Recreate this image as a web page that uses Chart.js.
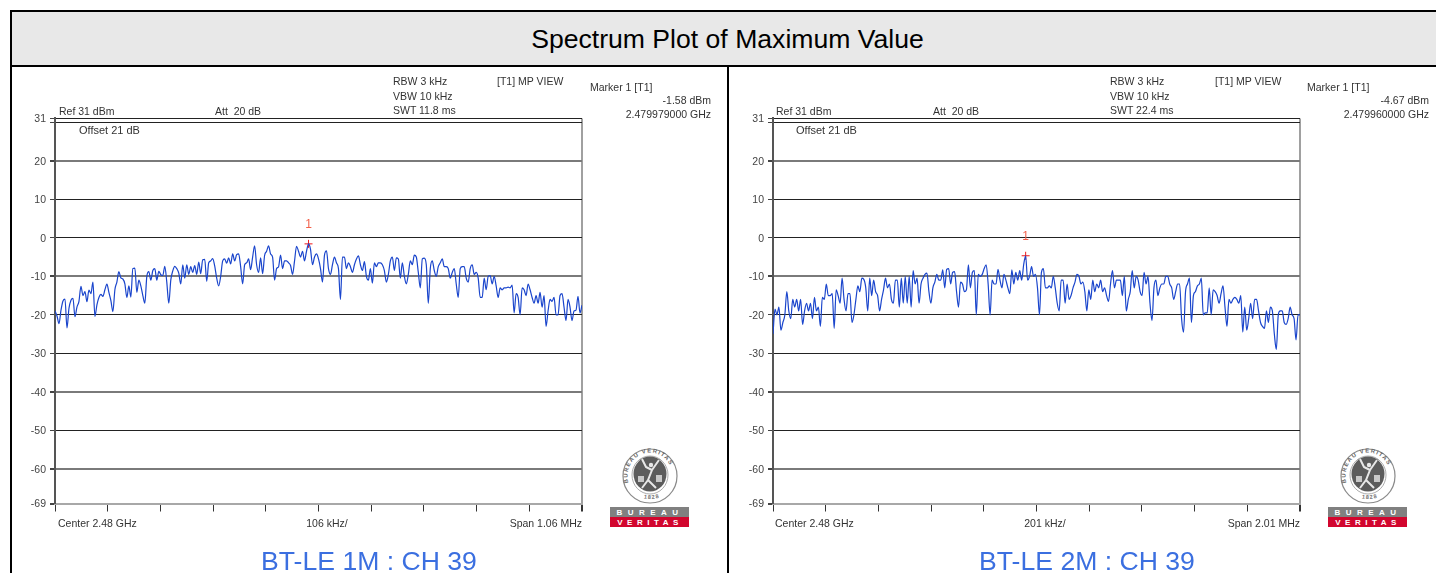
<!DOCTYPE html>
<html>
<head>
<meta charset="utf-8">
<title>Spectrum Plot of Maximum Value</title>
<script src="https://cdn.jsdelivr.net/npm/chart.js@4"></script>
<style>
    html, body { margin: 0; padding: 0; background: #fff; }
    body { position: relative; width: 1436px; height: 573px; overflow: hidden; font-family: "Liberation Sans", Arial, sans-serif; }
    .rule { position: absolute; background: #000; }
    #header { position: absolute; left: 11px; top: 12px; width: 1433px; height: 53px; text-align: center; background: #e8e8e8; line-height: 55px; font-size: 26.6px; color: #000; }
    canvas { position: absolute; top: 67px; }
    .note { position: absolute; font-size: 10.5px; line-height: 12px; color: #333; white-space: pre; }
    .caption { position: absolute; top: 545px; width: 400px; text-align: center; font-size: 26.6px; line-height: 32px; color: #3b6fe0; }
    svg { position: absolute; top: 447px; }
</style>
</head>
<body>
<div id="header">Spectrum Plot of Maximum Value</div>
<div class="rule" style="left:10px;top:10px;width:1426px;height:2px"></div>
<div class="rule" style="left:10px;top:65px;width:1426px;height:2px"></div>
<div class="rule" style="left:10px;top:10px;width:2px;height:563px"></div>
<div class="rule" style="left:727px;top:66px;width:2px;height:507px"></div>
<canvas id="chart1" width="575" height="460" style="left:12px"></canvas>
<canvas id="chart2" width="575" height="460" style="left:730px"></canvas>

<script>
const yTicks = [31, 30, 20, 10, 0, -10, -20, -30, -40, -50, -60, -69]
const heavyLines = [20, -10, -40, -60]

const span1 = 1060
const span2 = 2010
const marker1 = -1.58
const marker2 = -4.67

const trace1 = [
    -19, -20.3, -22.3, -18.8, -16.4, -15.9, -23.4, -18.3, -16.2, -15.7, -20.5, -18, -16.5, -12.6, -15, -14,
    -16.6, -13.6, -14.5, -11.5, -20.4, -17.4, -15.5, -14.7, -15.2, -13.5, -12, -14.2, -16.3, -19.2, -13.5, -11.5,
    -8.8, -10.4, -10.7, -12, -15.5, -12.5, -15.4, -8, -7.9, -14.2, -11, -12.5, -15, -17, -10, -8.8,
    -11, -8.5, -8, -11, -8.7, -9.6, -9.8, -7.4, -11.5, -17, -11, -8.6, -7.4, -8, -9.2, -12,
    -7, -10.5, -7, -9.5, -7.5, -9, -7.2, -9.5, -6.3, -9.3, -5.7, -5.6, -11.3, -6.5, -6, -5.4,
    -7.3, -10.5, -12.5, -10, -6, -5.5, -6.6, -5.2, -6.8, -4.2, -6, -4.4, -4.2, -7.5, -12, -7,
    -6.5, -5.5, -8.3, -5, -2.1, -7, -9, -5.2, -9.3, -4.6, -3.5, -2.1, -4.2, -5, -11, -8,
    -7.5, -4.5, -8, -6, -6, -6.5, -7.2, -9.5, -6, -2.2, -3.5, -5, -3.5, -6, -3.5, -1.58,
    -3, -7, -5, -4.2, -5.5, -8, -11.5, -4.5, -3.4, -8, -9.5, -7, -5, -6.5, -8, -16,
    -5, -5, -8, -6.5, -7.5, -9, -7, -5.5, -4.7, -7, -8.5, -6.2, -10, -11, -8, -11.8,
    -6.5, -7.5, -6.5, -6.5, -7, -8.5, -11.5, -9.5, -6, -5, -8.5, -5.2, -5.5, -10.5, -6.5, -10,
    -12, -9.5, -6, -7, -4.5, -5, -9, -13, -5.5, -5.3, -7, -17, -8, -6, -8.5, -10,
    -7.5, -6.5, -5.5, -7.5, -7.5, -8, -10.5, -9, -8, -12, -15.5, -8, -7.5, -7.5, -10.5, -11.5,
    -8, -7, -9.5, -9, -10.5, -15.5, -15.5, -10.5, -13.5, -10, -9.8, -12, -10, -12.5, -15.5, -13,
    -13.5, -13, -13, -12.8, -13, -12.3, -19.5, -14.5, -15.5, -20, -13, -13.5, -15, -12, -13.5, -15.5,
    -17, -15, -17, -14.2, -18, -15, -23, -19, -16, -16.5, -15.5, -20, -20, -15, -14.5, -18,
    -21.5, -16, -18, -21.5, -19, -18.8, -15.2, -19.5, -17.5
]

const trace2 = [
    -25, -18.5, -20, -18, -24, -22, -20, -14, -19, -21, -16, -18, -16, -19, -16, -22.5,
    -19, -17, -19, -17, -21, -15.5, -19, -18, -23, -15.5, -16, -12, -15, -15, -14.5, -23.5,
    -13.5, -15, -17, -10.5, -16, -19, -14.5, -14.5, -22, -20, -16, -12.5, -14, -10.5, -10.8, -13,
    -19, -10.5, -15, -11, -14, -15, -19, -16, -13.5, -10.5, -13, -12, -16, -17, -11, -11,
    -18, -10.5, -17, -10, -17, -10, -18, -8.5, -12, -10.5, -17, -12, -10.5, -9.5, -9.2, -14,
    -17, -13, -11.5, -9.5, -11, -11, -8.3, -13, -8.2, -8, -12, -9, -8.8, -14, -18, -11.5,
    -12, -14, -13.5, -7, -13, -9, -8.5, -20, -9.5, -10, -9.5, -8, -7, -12, -20, -11,
    -12, -12, -8.2, -11, -13, -9.5, -11, -13, -14.5, -8.3, -12, -9, -11, -8.5, -11, -7,
    -4.67, -11, -10, -7.5, -10, -9.5, -13, -20, -9, -8, -13, -13, -12.5, -13, -10, -13,
    -17, -19, -11, -11, -17, -12, -16, -15, -13, -11.5, -9.5, -10, -12, -11.5, -14, -19,
    -13.5, -16, -11, -14, -12, -13, -11, -14, -13, -15, -16.5, -12, -8.5, -13, -11, -11,
    -11, -15, -10, -19, -16, -14, -8.5, -13, -10, -11, -14, -15, -9, -12, -10, -17,
    -21.5, -13, -11, -15, -13, -12, -12, -10, -10, -12, -13, -16, -14, -12, -12, -21,
    -24.5, -14, -12, -10.5, -22, -15, -14, -12.5, -12, -10.5, -20, -19.5, -19.5, -13, -20, -13.5,
    -14, -15, -17, -14.5, -12.5, -18, -23, -16, -17, -16, -15.5, -16, -17, -15, -24.5, -18,
    -24, -21, -17, -21, -16, -16, -19, -22, -23, -23.5, -19, -22, -18, -19, -25, -29,
    -20, -19, -19, -22, -22.5, -21, -18, -20, -21, -26.5, -20, -20
]

// text that differs between the two panels
const notes1 = ['SWT 11.8 ms', '-1.58 dBm', '2.479979000 GHz', '106 kHz/', 'Span 1.06 MHz', 'BT-LE 1M : CH 39']
const notes2 = ['SWT 22.4 ms', '-4.67 dBm', '2.479960000 GHz', '201 kHz/', 'Span 2.01 MHz', 'BT-LE 2M : CH 39']

function addNote(text, left, center, align) {
    let el = document.createElement('div')
    el.className = 'note'
    el.textContent = text
    el.style.top = (center - 6) + 'px'
    if (align === 'right') {
        el.style.left = (left - 200) + 'px'
        el.style.width = '200px'
        el.style.textAlign = 'right'
    } else if (align === 'center') {
        el.style.left = (left - 100) + 'px'
        el.style.width = '200px'
        el.style.textAlign = 'center'
    } else {
        el.style.left = left + 'px'
    }
    document.body.appendChild(el)
    return el
}

function addPanelText(dx, nudge, notes) {
    addNote('RBW 3 kHz', 393 + dx + nudge, 81)
    addNote('VBW 10 kHz', 393 + dx + nudge, 96)
    addNote(notes[0], 393 + dx + nudge, 110)
    addNote('[T1] MP VIEW', 497 + dx, 81)
    addNote('Marker 1 [T1]', 590 + dx + nudge, 87)
    addNote(notes[1], 711 + dx, 100, 'right')
    addNote(notes[2], 711 + dx, 114, 'right')
    addNote('Ref 31 dBm', 59 + dx + nudge, 110.5)
    addNote('Att  20 dB', 215 + dx, 110.5)
    addNote('Offset 21 dB', 79 + dx + nudge, 130).style.fontSize = '11px'
    addNote('Center 2.48 GHz', 58 + dx + nudge, 523)
    addNote(notes[3], 327 + dx, 523, 'center')
    addNote(notes[4], 582 + dx, 523, 'right')

    let caption = document.createElement('div')
    caption.className = 'caption'
    caption.textContent = notes[5]
    caption.style.left = (169 + dx) + 'px'
    document.body.appendChild(caption)
}

function addLogo(dx, id) {
    let html = `
    <svg width="82" height="84" viewBox="0 0 82 84" style="left:${609 + dx}px">
      <defs>
        <path id="arcTop${id}" d="M 19.5 36 A 22.5 23.5 0 1 1 62.5 36" fill="none"/>
        <path id="arcLow${id}" d="M 28 49.5 Q 41 54.5 54 49.5" fill="none"/>
      </defs>
      <ellipse cx="41" cy="29" rx="27" ry="27" fill="#fff" stroke="#8a8a8a" stroke-width="1.2"/>
      <ellipse cx="41" cy="28" rx="18" ry="19" fill="#fff" stroke="#888" stroke-width="0.7"/>
      <text font-size="5.8" font-weight="bold" fill="#666" letter-spacing="1.25"><textPath href="#arcTop${id}">BUREAU VERITAS</textPath></text>
      <text font-size="5.6" font-weight="bold" fill="#777" letter-spacing="1"><textPath href="#arcLow${id}" startOffset="26%">1828</textPath></text>
      <ellipse cx="41" cy="27" rx="16.5" ry="17.5" fill="#5c5c5c"/>
      <path d="M33 12 L37 20 L43 23 L39 33 L33 41 M43 23 L50 13 M39 33 L47 41 M37 20 L43 23" stroke="#e8e8e8" stroke-width="2" fill="none"/>
      <circle cx="42" cy="18" r="2.2" fill="#e8e8e8"/>
      <rect x="29" y="29" width="6" height="6" fill="#c8c8c8"/>
      <rect x="47" y="28" width="6" height="7" fill="#c8c8c8"/>
      <rect x="1" y="60" width="79" height="10" fill="#808080"/>
      <rect x="1" y="70" width="79" height="10" fill="#d2062e"/>
      <text x="41" y="68" font-size="8" font-weight="bold" fill="#fff" text-anchor="middle" letter-spacing="5.5">BUREAU</text>
      <text x="41" y="78" font-size="8" font-weight="bold" fill="#fff" text-anchor="middle" letter-spacing="4.5">VERITAS</text>
    </svg>`
    document.body.insertAdjacentHTML('beforeend', html)
}

// draws the red "1" a little above the marker cross
const markerLabel = {
    id: 'markerLabel',
    afterDatasetsDraw(chart) {
        let point = chart.getDatasetMeta(1).data[0]
        let ctx = chart.ctx
        ctx.save()
        ctx.fillStyle = '#f2604a'
        ctx.font = '12px "Liberation Sans"'
        ctx.textAlign = 'center'
        ctx.textBaseline = 'middle'
        ctx.fillText('1', point.x, point.y - 19.5)
        ctx.restore()
    }
}

function spectrumChart(canvasId, trace, span, level) {
    let step = span / (trace.length - 1)
    let points = trace.map((v, i) => ({ x: i * step, y: v }))
    let markerPoint = points[trace.indexOf(level)]

    new Chart(document.getElementById(canvasId).getContext('2d'), {
        type: 'line',
        data: {
            datasets: [
                { data: points, borderColor: '#1a45cc', borderWidth: 1.2, pointRadius: 0, cubicInterpolationMode: 'monotone' },
                { data: [markerPoint], pointStyle: 'cross', pointRadius: 4, pointBorderColor: '#f01818', pointBorderWidth: 1, showLine: false }
            ]
        },
        plugins: [markerLabel],
        options: {
            responsive: false,
            animation: false,
            layout: { padding: { top: 51.4, right: 2.5, left: 0, bottom: 0 } },
            plugins: { legend: { display: false }, tooltip: { enabled: false } },
            scales: {
                x: {
                    type: 'linear',
                    min: 0,
                    max: span,
                    afterBuildTicks(scale) {
                        let ticks = []
                        for (let i = 0; i <= 10; i++) ticks.push({ value: i * span / 10 })
                        scale.ticks = ticks
                    },
                    afterFit(scale) { scale.height = 23.5 },
                    ticks: { display: false },
                    border: { color: '#a8a8a8', width: 2 },
                    grid: {
                        tickLength: 8,
                        tickColor: '#333',
                        color: (c) => c.index === 10 ? '#a0a0a0' : 'rgba(0,0,0,0)',
                        lineWidth: (c) => c.index === 10 ? 2 : 1
                    }
                },
                y: {
                    min: -69,
                    max: 31,
                    afterBuildTicks(scale) { scale.ticks = yTicks.map((v) => ({ value: v })) },
                    afterFit(scale) { scale.width = 43 },
                    ticks: {
                        autoSkip: false,
                        padding: 4,
                        labelOffset: 1,
                        color: '#444',
                        font: { family: '"Liberation Sans"', size: 10.5 },
                        callback: (v) => v === 30 ? '' : String(v)
                    },
                    border: { color: '#555', width: 2 },
                    grid: {
                        tickLength: 5,
                        tickColor: '#444',
                        color: (c) => {
                            let v = c.tick.value
                            if (v === -69) return '#a8a8a8'
                            return heavyLines.includes(v) ? '#7a7a7a' : '#222'
                        },
                        lineWidth: (c) => {
                            let v = c.tick.value
                            return heavyLines.includes(v) || v === -69 ? 2 : 1
                        }
                    }
                }
            }
        }
    })
}

addPanelText(0, 0, notes1)
addPanelText(718, -1, notes2)
addLogo(0, 'a')
addLogo(718, 'b')
spectrumChart('chart1', trace1, span1, marker1)
spectrumChart('chart2', trace2, span2, marker2)
</script>
</body>
</html>
